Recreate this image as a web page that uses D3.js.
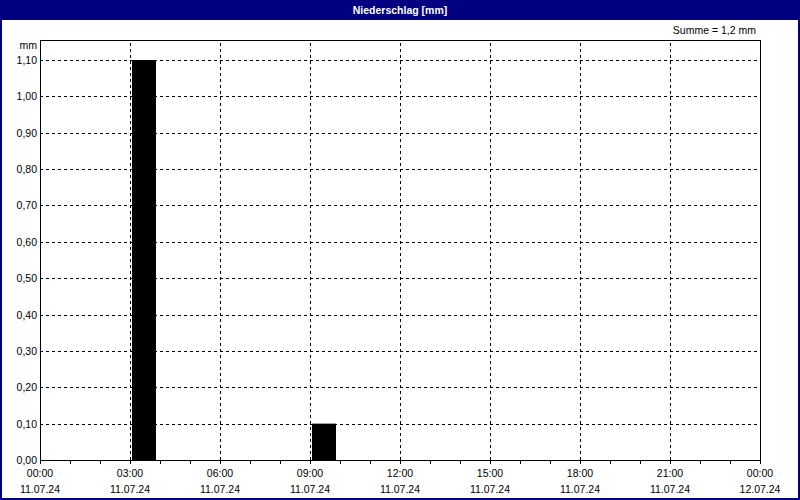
<!DOCTYPE html>
<html>
<head>
<meta charset="utf-8">
<script src="https://cdn.jsdelivr.net/npm/d3@7"></script>
<style>
    body { margin: 0; background: #fff; }
    text { font-family: "Liberation Sans", Arial, sans-serif; font-size: 10.5px; fill: #000; }
</style>
</head>
<body>
<svg id="chart" width="800" height="500"></svg>
<script>
// Chart data
const title = "Niederschlag [mm]";
const unit = "mm";
const sumLabel = "Summe = 1,2 mm";
const barStarts = ["2024-07-11T03:00", "2024-07-11T09:00"];
const barValues = [1.10, 0.10];
const yTicks = [0, 0.1, 0.2, 0.3, 0.4, 0.5, 0.6, 0.7, 0.8, 0.9, 1.0, 1.1];
const xStart = "2024-07-11T00:00";
const xEnd = "2024-07-12T00:00";

let svg = d3.select("#chart"),
    width = +svg.attr("width"),
    height = +svg.attr("height");

let margin = {left: 40, right: 40, top: 40, bottom: 40};
let parse = d3.timeParse("%Y-%m-%dT%H:%M");
let de = d3.formatLocale({decimal: ",", thousands: ".", grouping: [3], currency: ["", " €"]});
let fmtY = de.format(".2f");

// Scales
let x = d3.scaleTime()
    .domain([parse(xStart), parse(xEnd)])
    .range([margin.left, width - margin.right]);
let y = d3.scaleLinear()
    .domain([0, 1.155])
    .range([height - margin.bottom, margin.top]);

// Background + frame
svg.append("rect").attr("width", width).attr("height", height).attr("fill", "#fff");
svg.append("rect").attr("x", 0).attr("y", 0).attr("width", width).attr("height", 20).attr("fill", "#000080");
svg.append("rect").attr("x", 1).attr("y", 1).attr("width", width - 2).attr("height", height - 2)
    .attr("fill", "none").attr("stroke", "#000080").attr("stroke-width", 2);
svg.append("text").attr("x", width / 2).attr("y", 14).attr("text-anchor", "middle")
    .style("fill", "#fff").style("font-weight", "bold").text(title);

// Sum label
svg.append("text").attr("x", 756).attr("y", 34).attr("text-anchor", "end").text(sumLabel);

// Grid lines
let grid = svg.append("g").attr("stroke", "#000").attr("stroke-dasharray", "3,3").attr("shape-rendering", "crispEdges");
grid.selectAll("line.h")
    .data(yTicks.filter(d => d > 0))
    .enter().append("line")
    .attr("x1", x.range()[0]).attr("x2", x.range()[1])
    .attr("y1", d => Math.round(y(d)) + 0.5).attr("y2", d => Math.round(y(d)) + 0.5);
let majorTicks = x.ticks(d3.timeHour.every(3));
grid.selectAll("line.v")
    .data(majorTicks.slice(1, -1))
    .enter().append("line")
    .attr("y1", y.range()[0]).attr("y2", y.range()[1])
    .attr("x1", d => Math.round(x(d)) + 0.5).attr("x2", d => Math.round(x(d)) + 0.5);

// Bars (hourly sums)
svg.append("g").selectAll("rect")
    .data(barStarts.map((s, i) => ({t: parse(s), v: barValues[i]})))
    .enter().append("rect")
    .attr("x", d => x(d.t) + 2)
    .attr("width", d => (x(d3.timeHour.offset(d.t, 1)) - x(d.t)) * 0.8)
    .attr("y", d => y(d.v))
    .attr("height", d => y(0) - y(d.v))
    .attr("fill", "#000");

// Plot frame
svg.append("rect")
    .attr("x", x.range()[0] + 0.5).attr("y", y.range()[1] + 0.5)
    .attr("width", x.range()[1] - x.range()[0]).attr("height", y.range()[0] - y.range()[1])
    .attr("fill", "none").attr("stroke", "#000").attr("shape-rendering", "crispEdges");

// X axis: hourly ticks, labels every 3 h
let xAxis = svg.append("g")
    .attr("transform", "translate(0," + (y(0) + 0.5) + ")")
    .call(d3.axisBottom(x).ticks(d3.timeHour.every(1)).tickSize(3).tickFormat(""));
xAxis.select(".domain").remove();
xAxis.selectAll("line").attr("shape-rendering", "crispEdges");

let xl = svg.append("g").selectAll("g")
    .data(majorTicks)
    .enter().append("g")
    .attr("transform", d => "translate(" + x(d) + ",0)");
xl.append("text").attr("y", 477).attr("text-anchor", "middle").text(d3.timeFormat("%H:%M"));
xl.append("text").attr("y", 493).attr("text-anchor", "middle").text(d => {
    // 24:00 is shown as 00:00 of the next day
    return d3.timeFormat("%d.%m.%y")(d);
});

// Y labels
svg.append("g").selectAll("text")
    .data(yTicks)
    .enter().append("text")
    .attr("x", 37).attr("y", d => y(d) + 4)
    .attr("text-anchor", "end")
    .text(d => fmtY(d));
svg.append("text").attr("x", 37).attr("y", 49).attr("text-anchor", "end").text(unit);
</script>
</body>
</html>
